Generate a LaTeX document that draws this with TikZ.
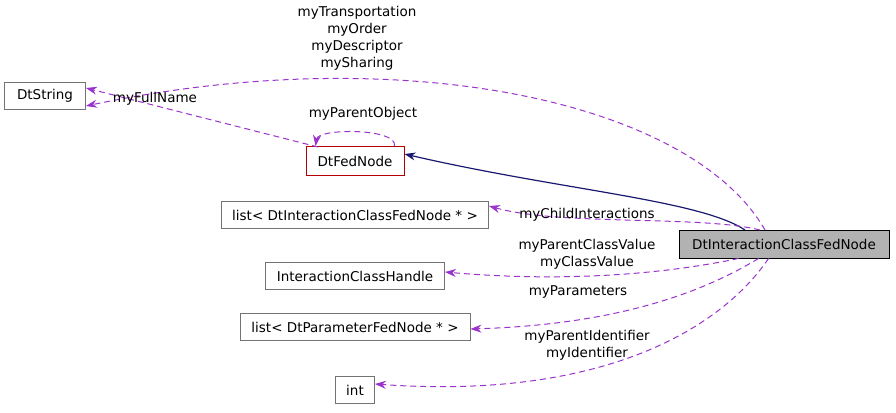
\documentclass[tikz,border=0pt]{standalone}
\usepackage{fontspec}
\setmainfont{DejaVu Sans}
\usetikzlibrary{arrows.meta}
\begin{document}
\begin{tikzpicture}[x=1pt,y=-1pt,
 box/.style={draw=black!55,fill=white,minimum height=27pt,inner xsep=5pt,line width=0.9pt,font=\fontsize{13.5}{16}\selectfont},
 lbl/.style={font=\fontsize{13.5}{17}\selectfont,align=center,inner sep=1pt},
 use/.style={draw={rgb,255:red,153;green,51;blue,204},line width=1pt,dash pattern=on 6pt off 4pt,-{Stealth[length=11pt,width=8pt]}},
 inh/.style={draw={rgb,255:red,25;green,25;blue,112},line width=1.2pt,-{Stealth[length=11pt,width=8pt]}}]
\useasboundingbox (0,0) rectangle (896,412);
\node[box,minimum width=81pt] (str) at (45,96) {DtString};
\node[box,draw={rgb,255:red,180;green,0;blue,0},minimum width=98pt,minimum height=29pt] (fed) at (355,161) {DtFedNode};
\node[box,minimum width=267pt] (l1) at (355,215) {list< DtInteractionClassFedNode * >};
\node[box,fill=black!30,draw=black,minimum width=210pt,minimum height=28pt] (main) at (784,244) {DtInteractionClassFedNode};
\node[box,minimum width=179pt] (ich) at (355,276) {InteractionClassHandle};
\node[box,minimum width=230pt] (l2) at (355,327) {list< DtParameterFedNode * >};
\node[box,minimum width=39pt] (int) at (355,390) {int};
\coordinate (m1) at (745,230);
\coordinate (m2) at (765,230);
\coordinate (m3) at (760,230);
\coordinate (f1) at (318,147);
\draw[inh] (m1) .. controls (700,200) and (560,190) .. ([yshift=7pt]fed.east);
\draw[use] (m2) .. controls (690,100) and (400,40) .. ([yshift=-10pt]str.east);
\draw[use] (f1) -- ([yshift=8pt]str.east);
\draw[use] ([xshift=-10pt]fed.north east) .. controls (398,128) and (318,128) .. ([xshift=10pt]fed.north west);
\draw[use] (m3) .. controls (700,215) and (560,226) .. ([yshift=9pt]l1.east);
\draw[use] ([xshift=60pt]main.south west) .. controls (660,275) and (560,282) .. ([yshift=4pt]ich.east);
\draw[use] ([xshift=80pt]main.south west) .. controls (690,300) and (600,325) .. ([yshift=-2pt]l2.east);
\draw[use] ([xshift=90pt]main.south west) .. controls (720,330) and (600,400) .. ([yshift=6pt]int.east);
\node[lbl] (t1) at (357,38) {myTransportation\\myOrder\\myDescriptor\\mySharing};
\node[lbl] (t2) at (155,99) {myFullName};
\node[lbl] (t3) at (363,114) {myParentObject};
\node[lbl] (t4) at (587,215) {myChildInteractions};
\node[lbl] (t5) at (587,254) {myParentClassValue\\myClassValue};
\node[lbl] (t6) at (578,292) {myParameters};
\node[lbl] (t7) at (587,345) {myParentIdentifier\\myIdentifier};
\end{tikzpicture}
\end{document}
